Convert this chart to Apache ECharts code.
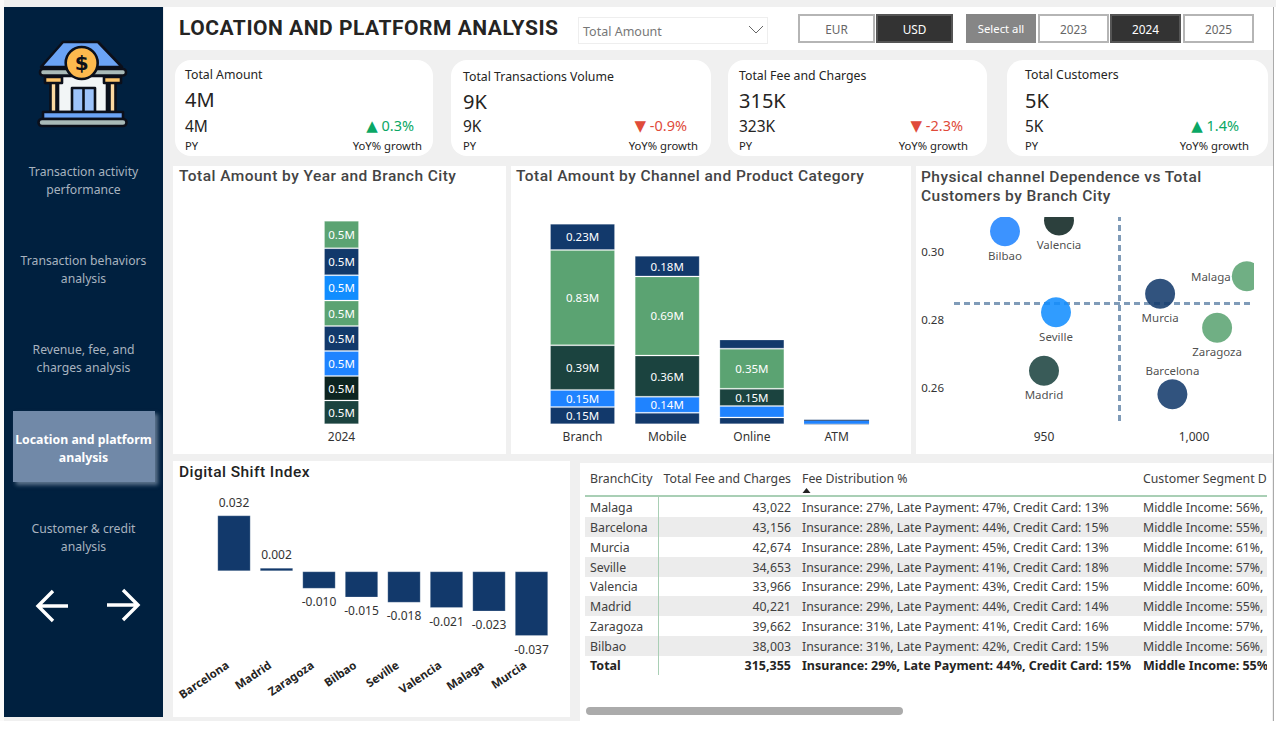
<!DOCTYPE html>
<html>
<head>
<meta charset="utf-8">
<title>Location and platform analysis</title>
<script src="https://cdn.jsdelivr.net/npm/echarts@6/dist/echarts.min.js"></script>
<style>
  html, body { margin: 0; padding: 0; background: #fff; }
  body { width: 1276px; height: 732px; position: relative; overflow: hidden; font-family: "Noto Sans", sans-serif; color: #252423; }
  .box { position: absolute; box-sizing: border-box; }
  .t { position: absolute; white-space: nowrap; transform: translateY(-50%); line-height: 1; }
  .din { font-family: Roboto, sans-serif; font-weight: 500; letter-spacing: .45px; color: #444; font-size: 15.5px; }
  .btn { position: absolute; top: 14px; height: 29px; line-height: 26px; text-align: center; box-sizing: border-box; font-size: 11.8px; border: 2px solid #b5b5b5; color: #666; background: #fff; }
  .btn.on { background: #333; color: #fff; border-color: #555; }
  .btn.all { background: #868686; color: #fff; border-color: #868686; font-size: 11.3px; }
  .nav { position: absolute; left: 4px; width: 159px; text-align: center; font-size: 12.2px; line-height: 18px; color: #a8b3bf; }
  .row { position: absolute; left: 585px; width: 682px; height: 20px; font-size: 12.3px; line-height: 20px; color: #404040; overflow: hidden; }
  .row span { position: absolute; top: 1px; white-space: nowrap; }
  .chart { position: absolute; }
</style>
</head>
<body>
<div class="box" style="left:0;top:0;width:1276px;height:721px;background:#f0f0f0"></div>
<div class="box" style="left:0;top:0;width:4px;height:721px;background:#fafafa"></div>
<div class="box" style="left:1273px;top:7px;width:3px;height:714px;background:#fff;border-left:1px solid #aaa"></div>

<!-- sidebar -->
<div class="box" style="left:4px;top:7px;width:159px;height:710px;background:#00203f"></div>
<svg class="box" style="left:0;top:0" width="170" height="140" stroke="#0b0f1a" stroke-width="2.6" stroke-linejoin="round">
  <polygon points="41,67 63,42 98,42 122,67" fill="#6ba3f5"/>
  <rect x="58" y="76" width="49" height="36" fill="#f2f5f6"/>
  <rect x="50.5" y="82" width="6" height="30" fill="#fcd9a0"/>
  <rect x="109.5" y="82" width="6" height="30" fill="#fcd9a0"/>
  <rect x="45" y="77" width="17" height="6" fill="#fcc56b"/>
  <rect x="104" y="77" width="17" height="6" fill="#fcc56b"/>
  <rect x="72" y="88" width="23" height="24" fill="#9dc3fb"/>
  <line x1="83.5" y1="88" x2="83.5" y2="112"/>
  <rect x="40" y="69" width="86" height="6.5" rx="3" fill="#a9bab8"/>
  <circle cx="81.7" cy="63" r="16" fill="#fdb94e"/>
  <text x="81.7" y="70" text-anchor="middle" font-size="20" font-weight="700" font-family="DejaVu Sans" fill="#0b0f1a" stroke="none">$</text>
  <rect x="43" y="112" width="80" height="7" fill="#6ba3f5"/>
  <rect x="38.5" y="119" width="88" height="7" rx="3.5" fill="#a9bab8"/>
</svg>
<div class="box" style="left:13px;top:411px;width:142px;height:71px;background:#7189a8;box-shadow:3px 3px 4px rgba(170,185,205,.55)"></div>
<div id="navList"></div>
<svg class="box" style="left:0;top:580px" width="170" height="50" fill="none" stroke="#fff" stroke-width="3.4">
  <path d="M68 26 H40 M53 11 L38 26 L53 41"/>
  <path d="M107 25 H137 M123 10 L138 25 L123 40"/>
</svg>

<!-- header strip -->
<div class="box" style="left:164px;top:7px;width:1109px;height:43px;background:#fff"></div>
<div class="t" style="left:179px;top:28px;font-family:Roboto,sans-serif;font-weight:700;font-size:21px;letter-spacing:.52px;color:#252423">LOCATION AND PLATFORM ANALYSIS</div>
<div class="box" style="left:578px;top:17px;width:190px;height:27px;border:1px solid #eee;background:#fff"></div>
<div class="t" style="left:583px;top:32px;font-size:12.5px;color:#777">Total Amount</div>
<svg class="box" style="left:748px;top:25px" width="16" height="10" fill="none" stroke="#666" stroke-width="1"><path d="M1 1 L8 8 L15 1"/></svg>
<div id="slicers"></div>
<div id="kpiCards"></div>

<!-- panels -->
<div class="box" style="left:173px;top:166px;width:333px;height:288px;background:#fff"></div>
<div class="box" style="left:511px;top:166px;width:400px;height:288px;background:#fff"></div>
<div class="box" style="left:916px;top:166px;width:357px;height:288px;background:#fff"></div>
<div class="box" style="left:173px;top:461px;width:397px;height:256px;background:#fff"></div>
<div class="box" style="left:580px;top:463px;width:692px;height:258px;background:#fff"></div>

<div id="yearChart" class="chart" style="left:173px;top:166px;width:333px;height:288px"></div>
<div id="channelChart" class="chart" style="left:511px;top:166px;width:400px;height:288px"></div>
<div id="scatterChart" class="chart" style="left:916px;top:166px;width:357px;height:288px"></div>
<div id="shiftChart" class="chart" style="left:173px;top:461px;width:397px;height:256px"></div>
<!-- scatter dots are cut at the plot edge in the original -->
<div class="box" style="left:1000px;top:204px;width:273px;height:13px;background:#fff"></div>
<div class="box" style="left:1254px;top:204px;width:19px;height:240px;background:#fff"></div>

<div class="t din" style="left:179px;top:177px">Total Amount by Year and Branch City</div>
<div class="t din" style="left:516px;top:177px">Total Amount by Channel and Product Category</div>
<div class="t din" style="left:921px;top:178px">Physical channel Dependence vs Total</div>
<div class="t din" style="left:921px;top:197px">Customers by Branch City</div>
<div class="t din" style="left:179px;top:473px;color:#222">Digital Shift Index</div>

<div id="feeTable"></div>
<div class="box" style="left:586px;top:707px;width:317px;height:8px;border-radius:4px;background:#ababab"></div>

<script>
// sidebar + slicers
var navItems = [
    ['Transaction activity', 'performance'],
    ['Transaction behaviors', 'analysis'],
    ['Revenue, fee, and', 'charges analysis'],
    ['Location and platform', 'analysis'],
    ['Customer & credit', 'analysis']
];
var navTops = [163, 252, 341, 431, 520];
var activeNav = 3;
var slicerButtons = [
    ['EUR', 798, 77, ''], ['USD', 876, 77, 'on'],
    ['Select all', 966, 70, 'all'], ['2023', 1038, 71, ''], ['2024', 1110, 71, 'on'], ['2025', 1183, 71, '']
];

// KPI cards
var kpiTitles = ['Total Amount', 'Total Transactions Volume', 'Total Fee and Charges', 'Total Customers'];
var kpiValues = ['4M', '9K', '315K', '5K'];
var kpiPrior = ['4M', '9K', '323K', '5K'];
var kpiGrowth = [0.3, -0.9, -2.3, 1.4];
var kpiBoxes = [[175, 258], [451, 260], [728, 259], [1007, 261]];
var kpiTextX = [185, 463, 739, 1025];
var kpiTitleY = [75, 77, 76, 75];
var kpiValueY = [100, 102, 101, 101];
var kpiGrowthRight = [414, 687, 963, 1239];
var kpiNoteRight = [422, 698, 968, 1249];

// Total Amount by Year and Branch City
var yearCategories = ['2024'];
var yearCities = ['Madrid', 'Valencia', 'Bilbao', 'Murcia', 'Zaragoza', 'Seville', 'Barcelona', 'Malaga'];
var yearAmounts = [0.47, 0.48, 0.49, 0.49, 0.50, 0.50, 0.53, 0.54];
var yearTotal = 4.0;

// Total Amount by Channel and Product Category
var channels = ['Branch', 'Mobile', 'Online', 'ATM'];
var productA = [0.15, 0.10, 0.06, 0.005];
var productB = [0.15, 0.14, 0.10, 0.025];
var productC = [0.39, 0.36, 0.15, 0];
var productD = [0.83, 0.69, 0.35, 0];
var productE = [0.23, 0.18, 0.08, 0.010];
var channelMax = 1.75;

// Physical channel Dependence vs Total Customers
var scatterCities = ['Bilbao', 'Valencia', 'Malaga', 'Murcia', 'Seville', 'Zaragoza', 'Madrid', 'Barcelona'];
var scatterCustomers = [937, 955, 1017.6, 988.7, 954, 1007.7, 950, 992.8];
var scatterDependence = [0.3058, 0.309, 0.2926, 0.2874, 0.282, 0.2774, 0.2648, 0.2579];
var scatterXTicks = [950, 1000];
var scatterYTicks = [0.26, 0.28, 0.30];
var avgCustomers = 975;
var avgDependence = 0.2846;

// Digital Shift Index
var shiftCities = ['Barcelona', 'Madrid', 'Zaragoza', 'Bilbao', 'Seville', 'Valencia', 'Malaga', 'Murcia'];
var shiftValues = [0.032, 0.002, -0.010, -0.015, -0.018, -0.021, -0.023, -0.037];

// fee table
var tableCities = ['Malaga', 'Barcelona', 'Murcia', 'Seville', 'Valencia', 'Madrid', 'Zaragoza', 'Bilbao', 'Total'];
var tableFees = ['43,022', '43,156', '42,674', '34,653', '33,966', '40,221', '39,662', '38,003', '315,355'];
var tableInsurance = [27, 28, 28, 29, 29, 29, 31, 31, 29];
var tableLatePayment = [47, 44, 45, 41, 43, 44, 41, 42, 44];
var tableCreditCard = [13, 15, 13, 18, 15, 14, 16, 15, 15];
var tableMiddleIncome = [56, 55, 61, 57, 60, 55, 57, 56, 55];

var navy = '#12396b', green = '#5ba372', blue = '#1f83ff', sky = '#118dff', teal = '#1b433f', black = '#0d2420';
var cityColors = {
    Madrid: teal, Valencia: black, Bilbao: blue, Murcia: navy,
    Zaragoza: green, Seville: sky, Barcelona: navy, Malaga: green
};
var textFont = '"Noto Sans", sans-serif';
var barEdge = 'rgba(255,255,255,0.22)';

function addHtml(id, html) {
    document.getElementById(id).innerHTML = html;
}

addHtml('navList', navItems.map(function (lines, i) {
    var style = 'top:' + navTops[i] + 'px';
    if (i === activeNav) style += ';color:#fff;font-weight:700;font-size:12.3px';
    return '<div class="nav" style="' + style + '">' + lines.join('<br>').replace('&', '&amp;') + '</div>';
}).join(''));

addHtml('slicers', slicerButtons.map(function (b) {
    return '<div class="btn ' + b[3] + '" style="left:' + b[1] + 'px;width:' + b[2] + 'px">' + b[0] + '</div>';
}).join(''));

addHtml('kpiCards', kpiTitles.map(function (title, i) {
    var x = kpiBoxes[i][0], w = kpiBoxes[i][1], up = kpiGrowth[i] > 0, tx = kpiTextX[i];
    var color = up ? '#0aa765' : '#e04b3a';
    return '<div class="box" style="left:' + x + 'px;top:60px;width:' + w + 'px;height:96px;background:#fff;border-radius:16px"></div>'
        + '<div class="t" style="left:' + tx + 'px;top:' + kpiTitleY[i] + 'px;font-size:12.3px">' + title + '</div>'
        + '<div class="t" style="left:' + tx + 'px;top:' + kpiValueY[i] + 'px;font-size:20px">' + kpiValues[i] + '</div>'
        + '<div class="t" style="left:' + tx + 'px;top:127px;font-size:15.5px">' + kpiPrior[i] + '</div>'
        + '<div class="t" style="left:' + tx + 'px;top:146px;font-size:11.2px">PY</div>'
        + '<div class="t" style="right:' + (1276 - kpiGrowthRight[i]) + 'px;top:126px;font-size:14.5px;color:' + color + '">'
        + '<span style="font-family:\'DejaVu Sans\';font-size:15px">' + (up ? '▲' : '▼') + '</span> ' + kpiGrowth[i].toFixed(1) + '%</div>'
        + '<div class="t" style="right:' + (1276 - kpiNoteRight[i]) + 'px;top:146px;font-size:11.3px">YoY% growth</div>';
}).join(''));

function rowHtml(top, cols, style) {
    return '<div class="row" style="top:' + top + 'px;' + style + '">'
        + '<span style="left:5px">' + cols[0] + '</span>'
        + '<span style="right:476px">' + cols[1] + '</span>'
        + '<span style="left:217px">' + cols[2] + '</span>'
        + '<span style="left:558px">' + cols[3] + '</span></div>';
}

var tableHtml = rowHtml(467.5, ['BranchCity', 'Total Fee and Charges', 'Fee Distribution %', 'Customer Segment D'], '');
tableCities.forEach(function (city, i) {
    var top = 497.3 + i * 19.75;
    var style = i === 8 ? 'font-weight:700;color:#252423;font-size:12.5px;' : (i % 2 ? 'background:#ececec;' : '');
    tableHtml += rowHtml(top, [city, tableFees[i],
        'Insurance: ' + tableInsurance[i] + '%, Late Payment: ' + tableLatePayment[i] + '%, Credit Card: ' + tableCreditCard[i] + '%',
        'Middle Income: ' + tableMiddleIncome[i] + '%' + (i === 8 ? '' : ',')], style);
});
tableHtml += '<div class="box" style="left:585px;top:495px;width:682px;height:2px;background:#a9cfb5"></div>'
    + '<div class="box" style="left:657.5px;top:496px;width:1.5px;height:179px;background:#a9cfb5"></div>'
    + '<svg class="box" style="left:802px;top:487px" width="10" height="6"><polygon points="0.5,6 4.5,1 8.5,6" fill="#222"/></svg>';
addHtml('feeTable', tableHtml);

// chart 1
var yearChart = echarts.init(document.getElementById('yearChart'), null, { renderer: 'svg' });
yearChart.setOption({
    animation: false,
    textStyle: { fontFamily: textFont },
    grid: { left: 20.5, width: 296, top: 54.7, bottom: 29.7 },
    xAxis: {
        type: 'category', data: yearCategories,
        axisLine: { show: false }, axisTick: { show: false },
        axisLabel: { color: '#333', fontSize: 12, margin: 6 }
    },
    yAxis: { type: 'value', min: 0, max: yearTotal, show: false },
    series: yearCities.map(function (city, i) {
        return {
            name: city, type: 'bar', stack: 'total', barWidth: 35,
            data: [yearAmounts[i]],
            itemStyle: { color: cityColors[city], borderColor: barEdge, borderWidth: 1 },
            label: {
                show: true, position: 'inside', color: '#fff', fontSize: 11.5,
                formatter: function (p) { return p.value.toFixed(1) + 'M'; }
            }
        };
    })
});

// chart 2
var productSeries = [
    ['Product A', productA, navy], ['Product B', productB, blue], ['Product C', productC, teal],
    ['Product D', productD, green], ['Product E', productE, navy]
];
var channelChart = echarts.init(document.getElementById('channelChart'), null, { renderer: 'svg' });
channelChart.setOption({
    animation: false,
    textStyle: { fontFamily: textFont },
    grid: { left: 29.2, width: 338.7, top: 57.7, bottom: 29.7 },
    xAxis: {
        type: 'category', data: channels,
        axisLine: { show: false }, axisTick: { show: false },
        axisLabel: { color: '#333', fontSize: 12, margin: 6 }
    },
    yAxis: { type: 'value', min: 0, max: channelMax, show: false },
    series: productSeries.map(function (p) {
        return {
            name: p[0], type: 'bar', stack: 'total', barWidth: 65,
            data: p[1].map(function (v) {
                // ATM slivers would vanish under the edge line
                return { value: v, itemStyle: { borderWidth: v < 0.03 ? 0 : 1 } };
            }),
            itemStyle: { color: p[2], borderColor: barEdge, borderWidth: 1 },
            label: {
                show: true, position: 'inside', color: '#fff', fontSize: 11.5,
                formatter: function (q) { return q.value >= 0.14 ? q.value.toFixed(2) + 'M' : ''; }
            }
        };
    })
});

// chart 3
var scatterChart = echarts.init(document.getElementById('scatterChart'), null, { renderer: 'svg' });
scatterChart.setOption({
    animation: false,
    textStyle: { fontFamily: textFont },
    grid: { left: 38, width: 300, top: 51, height: 204 },
    xAxis: {
        type: 'value', min: 920, max: 1020, splitLine: { show: false },
        axisLine: { show: false }, axisTick: { show: false },
        axisLabel: {
            color: '#333', fontSize: 12, margin: 9, customValues: scatterXTicks,
            formatter: function (v) { return v.toLocaleString('en-US'); }
        }
    },
    yAxis: {
        type: 'value', min: 0.25, max: 0.31, splitLine: { show: false },
        axisLine: { show: false }, axisTick: { show: false },
        axisLabel: {
            color: '#333', fontSize: 11.5, margin: 10, padding: [4, 0, 0, 0], customValues: scatterYTicks,
            formatter: function (v) { return v.toFixed(2); }
        }
    },
    series: [{
        type: 'scatter', symbolSize: 30, z: 3,
        data: scatterCities.map(function (city, i) {
            var pos = city === 'Malaga' ? 'left' : (city === 'Barcelona' ? 'top' : 'bottom');
            return {
                name: city,
                value: [scatterCustomers[i], scatterDependence[i]],
                itemStyle: { color: cityColors[city], opacity: 0.87 },
                label: {
                    show: true, position: pos, distance: city === 'Malaga' ? 1 : 3,
                    formatter: '{b}', color: '#333', fontSize: 11.5
                }
            };
        }),
        markLine: {
            silent: true, symbol: 'none', z: 1, animation: false, precision: 4,
            label: { show: false },
            lineStyle: { color: '#7f9bb8', width: 3, type: [6, 4] },
            data: [{ xAxis: avgCustomers }, { yAxis: avgDependence }]
        }
    }]
});

// chart 4
var shiftChart = echarts.init(document.getElementById('shiftChart'), null, { renderer: 'svg' });
shiftChart.setOption({
    animation: false,
    textStyle: { fontFamily: textFont },
    grid: { left: 39.75, width: 340, top: 54.3, height: 120.7 },
    xAxis: {
        type: 'category', data: shiftCities, position: 'bottom',
        axisLine: { show: false, onZero: false }, axisTick: { show: false },
        axisLabel: {
            color: '#252423', fontSize: 11.5, fontWeight: 'bold', rotate: 34, margin: 23,
            padding: [0, 8, 0, 0], interval: 0
        }
    },
    yAxis: { type: 'value', min: -0.037, max: 0.032, show: false },
    series: [{
        type: 'bar', barWidth: 33.4,
        data: shiftValues.map(function (v) {
            return { value: v, label: { position: v < 0 ? 'bottom' : 'top' } };
        }),
        itemStyle: { color: navy, borderColor: barEdge, borderWidth: 1 },
        label: {
            show: true, color: '#333', fontSize: 12, distance: 7,
            formatter: function (p) { return p.value.toFixed(3); }
        }
    }]
});
</script>
</body>
</html>
